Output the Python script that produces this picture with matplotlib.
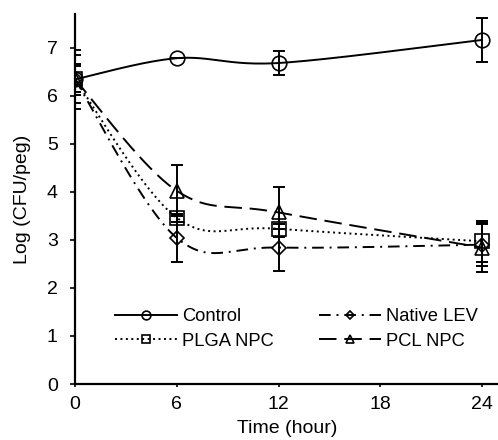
import numpy as np
import matplotlib
matplotlib.use("Agg")
import matplotlib.pyplot as plt
from matplotlib.lines import Line2D

plt.rcParams["font.family"] = ["Liberation Sans", "DejaVu Sans"]
plt.rcParams["font.size"] = 14

# data
hours = [0, 6, 12, 24]
labels = ["Control", "Native LEV", "PLGA NPC", "PCL NPC"]
control = [6.34, 6.78, 6.68, 7.16]
control_err = [0.27, 0.0, 0.25, 0.45]
native_lev = [6.34, 3.04, 2.84, 2.90]
native_lev_err = [0.50, 0.50, 0.48, 0.45]
plga_npc = [6.34, 3.46, 3.23, 2.97]
plga_npc_err = [0.62, 0.08, 0.0, 0.43]
pcl_npc = [6.34, 4.02, 3.57, 2.84]
pcl_npc_err = [0.32, 0.53, 0.52, 0.50]


def smooth(x, y, n=60):
    # excel-style smoothed line: cubic bezier with catmull-rom control points
    p = np.column_stack([x, y]).astype(float)
    p = np.vstack([p[0], p, p[-1]])
    t = np.linspace(0, 1, n)[:, None]
    out = []
    for i in range(1, len(p) - 2):
        p0, p1, p2, p3 = p[i - 1], p[i], p[i + 1], p[i + 2]
        c1 = p1 + (p2 - p0) / 6
        c2 = p2 - (p3 - p1) / 6
        seg = ((1 - t) ** 3) * p1 + 3 * ((1 - t) ** 2) * t * c1 \
            + 3 * (1 - t) * t ** 2 * c2 + t ** 3 * p2
        out.append(seg)
    out = np.vstack(out)
    return out[:, 0], out[:, 1]


series = [
    (control, control_err, "-", "o", 10.5),
    (native_lev, native_lev_err, (0, (6, 3, 1, 3)), "D", 7),
    (plga_npc, plga_npc_err, (0, (1, 1.8)), "s", 9.5),
    (pcl_npc, pcl_npc_err, (0, (9, 4)), "^", 10.5),
]

fig = plt.figure(figsize=(4.98, 4.40), dpi=100)
ax = fig.add_axes([75 / 498, 56 / 440, 424 / 498, 370 / 440])

handles = []
for (vals, err, ls, mk, ms), lab in zip(series, labels):
    sx, sy = smooth(hours, vals)
    ax.plot(sx, sy, color="black", lw=1.4, ls=ls)
    ax.errorbar(hours, vals, yerr=err, fmt="none", ecolor="black",
                elinewidth=1.4, capsize=4.3, capthick=1.4)
    ax.plot(hours, vals, ls="none", marker=mk, ms=ms, mfc="none",
            mec="black", mew=1.2)
    handles.append(Line2D([], [], color="black", lw=1.4, ls=ls, marker=mk,
                          ms=ms * 0.6, mfc="none", mec="black", mew=1.2))

ax.set_xlim(0, 25)
ax.set_ylim(0, 7.7)
ax.set_xticks([0, 6, 12, 18, 24])
ax.set_yticks(range(0, 8))
for s in ["top", "right"]:
    ax.spines[s].set_visible(False)
for s in ["left", "bottom"]:
    ax.spines[s].set_linewidth(1.6)
ax.tick_params(axis="y", direction="out", length=3.5, width=1.2,
               labelsize=14, pad=9)
ax.tick_params(axis="x", direction="out", length=2.5, width=1.2,
               labelsize=14, pad=6)
ax.set_xlabel("Time (hour)", fontsize=14, labelpad=5)
ax.set_ylabel("Log (CFU/peg)", fontsize=14, labelpad=11)

ax.legend([handles[0], handles[2], handles[1], handles[3]],
          [labels[0], labels[2], labels[1], labels[3]],
          ncol=2, frameon=False, loc="center left",
          bbox_to_anchor=(0.094, 0.149), handlelength=3.4,
          handletextpad=0.28, columnspacing=2.45, labelspacing=0.4,
          borderaxespad=0, borderpad=0, fontsize=13.2)

fig.savefig("out.png", dpi=100)
